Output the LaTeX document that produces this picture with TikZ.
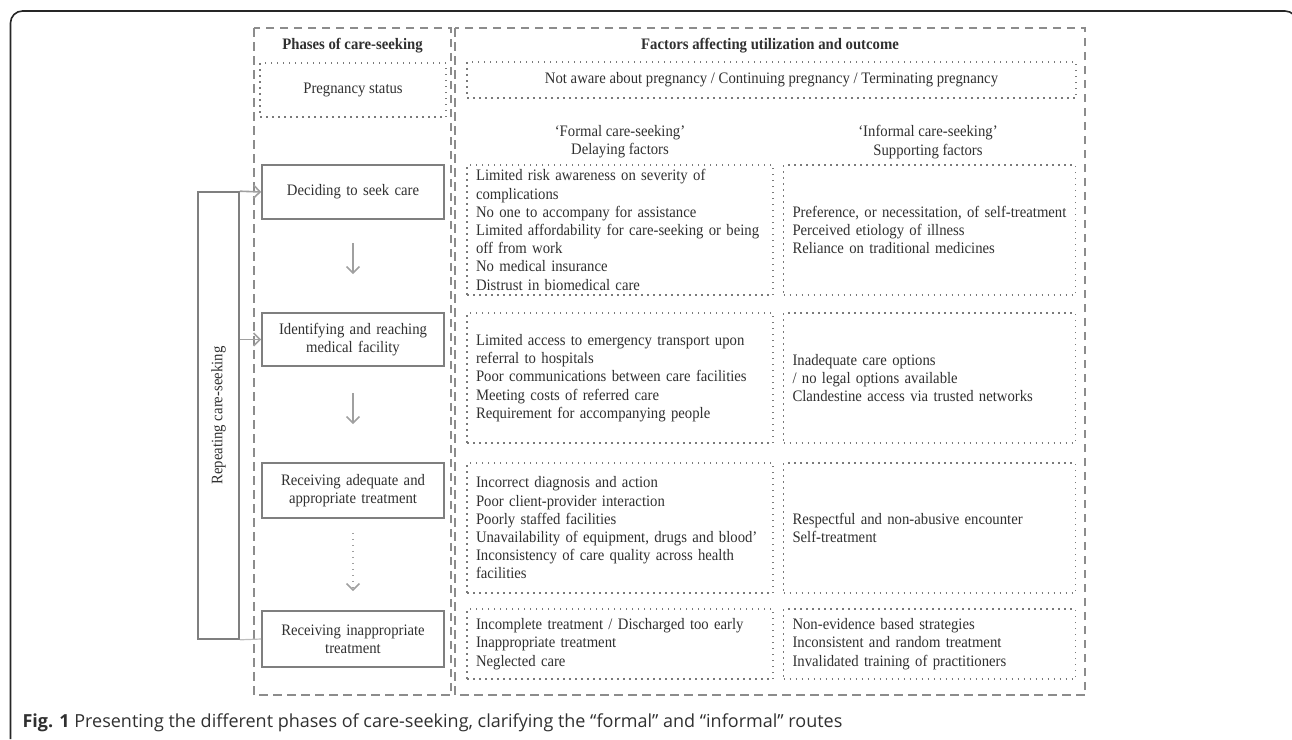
\documentclass[tikz,border=0pt]{standalone}
\usepackage{fontspec}
\setmainfont{Liberation Serif}[FakeStretch=0.92]
\newfontfamily\capfont{Open Sans}
\usepackage{tikz}
\usetikzlibrary{arrows.meta,positioning}
\definecolor{txtgray}{HTML}{303030}
\definecolor{boxgray}{HTML}{7F7F7F}
\definecolor{dotgray}{HTML}{7A7A7A}
\definecolor{dashgray}{HTML}{8C8C8C}
\definecolor{arrowgray}{HTML}{A0A0A0}
\newcommand\diagfont{\fontsize{16}{18.2}\selectfont}
\tikzset{frame/.style={draw=black!85,line width=1.6pt,rounded corners=12pt}}
\tikzset{column/.style={draw=dashgray,line width=2pt,dash pattern=on 8.5pt off 5.5pt}}
\tikzset{dotbox/.style={draw=dotgray,line width=1.5pt,dash pattern=on 1.5pt off 4.5pt}}
\tikzset{phase/.style={draw=boxgray,line width=1.6pt,text width=170pt,inner xsep=6pt,align=center}}
\tikzset{factor/.style={dotbox,inner xsep=9pt,align=left}}
\tikzset{loopbox/.style={draw=boxgray,line width=1.6pt,inner sep=0pt}}
\tikzset{flow/.style={draw=arrowgray,line width=1.6pt,->}}
\tikzset{loopline/.style={draw=arrowgray,line width=1.6pt,->}}

\begin{document}
\begin{tikzpicture}[x=1pt,y=-1pt,font=\diagfont,text=txtgray,>={Straight Barb[length=6.5pt,width=13pt]}]
    \useasboundingbox (0,0) rectangle (1292,739);
    \clip (0,0) rectangle (1292,739);
    \draw[frame] (10.5,739) -- (10.5,11) -- (1297,11) -- (1297,60);
    \draw[column] (254,28) rectangle (451,695);
    \draw[column] (455,28) rectangle (1085,695);
    \node (hphase) at (352.5,46) {\textbf{Phases of care-seeking}};
    \node (hfactor) at (770,46) {\textbf{Factors affecting utilization and outcome}};
    \node (preg) [dotbox,minimum width=186pt,minimum height=54pt] at (353,90) {Pregnancy status};
    \node (pregopt) [dotbox,minimum width=609pt,minimum height=36pt] at (771.5,80) {Not aware about pregnancy / Continuing pregnancy / Terminating pregnancy};
    \node (hformal) [align=center] at (620,142) {`Formal care-seeking'\\Delaying factors};
    \node (hinformal) [align=center] at (928,142) {`Informal care-seeking'\\Supporting factors};
    \node (decide) [phase,minimum height=54pt] at (353,192) {Deciding to seek care};
    \node (reach) [phase,minimum height=53pt] at (353,339.5) {Identifying and reaching\\medical facility};
    \node (adequate) [phase,minimum height=55pt] at (353,490.5) {Receiving adequate and\\appropriate treatment};
    \node (inappr) [phase,minimum height=56pt] at (353,639) {Receiving inappropriate\\treatment};
    \node (repeat) [loopbox,minimum width=41pt,minimum height=447pt] at (218.5,415.5) {\rotatebox{90}{Repeating care-seeking}};
    \node (delay1) [factor,text width=288pt,minimum height=130pt] at (620,230) {Limited risk awareness on severity of\\complications\\No one to accompany for assistance\\Limited affordability for care-seeking or being\\off from work\\No medical insurance\\Distrust in biomedical care};
    \node (support1) [factor,text width=274pt,minimum height=130pt,right=9pt of delay1] {Preference, or necessitation, of self-treatment\\Perceived etiology of illness\\Reliance on traditional medicines};
    \node (delay2) [factor,text width=288pt,minimum height=130pt] at (620,378) {Limited access to emergency transport upon\\referral to hospitals\\Poor communications between care facilities\\Meeting costs of referred care\\Requirement for accompanying people};
    \node (support2) [factor,text width=274pt,minimum height=130pt,right=9pt of delay2] {Inadequate care options\\/ no legal options available\\Clandestine access via trusted networks};
    \node (delay3) [factor,text width=288pt,minimum height=130pt] at (620,528) {Incorrect diagnosis and action\\Poor client-provider interaction\\Poorly staffed facilities\\Unavailability of equipment, drugs and blood'\\Inconsistency of care quality across health\\facilities};
    \node (support3) [factor,text width=274pt,minimum height=130pt,right=9pt of delay3] {Respectful and non-abusive encounter\\Self-treatment};
    \node (delay4) [factor,text width=288pt,minimum height=70pt] at (620,644) {Incomplete treatment / Discharged too early\\Inappropriate treatment\\Neglected care};
    \node (support4) [factor,text width=274pt,minimum height=70pt,right=9pt of delay4] {Non-evidence based strategies\\Inconsistent and random treatment\\Invalidated training of practitioners};
    \node (caption) [anchor=west,font=\capfont\fontsize{18}{21}\selectfont] at (19,723) {\textbf{Fig. 1} Presenting the different phases of care-seeking, clarifying the “formal” and “informal” routes};
    \draw[flow,shorten <=23pt,shorten >=38pt] (decide) -- (reach);
    \draw[flow,shorten <=26pt,shorten >=38pt] (reach) -- (adequate);
    \draw[flow,dash pattern=on 1.5pt off 4.5pt,shorten <=14pt,shorten >=19pt] (adequate) -- (inappr);
    \draw[loopline] (repeat.north east) -- (decide.west);
    \draw[loopline] (repeat.east |- reach.west) -- (reach.west);
    \draw[draw=arrowgray!70,line width=1.2pt] (inappr.west) -- (repeat.south east);
\end{tikzpicture}
\end{document}
